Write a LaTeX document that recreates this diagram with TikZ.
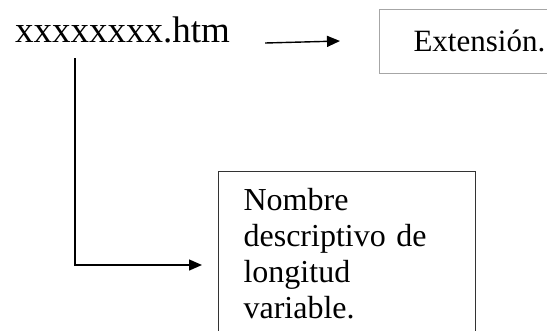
\documentclass[tikz,border=0pt]{standalone}
\usepackage{fontspec}
\setmainfont{Liberation Serif}
\usetikzlibrary{arrows.meta}
\begin{document}
\begin{tikzpicture}[x=1pt, y=-1pt, tip/.style={line width=1.4pt, -{Triangle[length=13pt,width=11pt]}}, box/.style={draw, anchor=north west, align=left}]
\useasboundingbox (0,0) rectangle (547,330);
\node[anchor=base west, inner sep=0pt, font=\fontsize{37}{44}\selectfont] (file) at (15,42) {xxxxxxxx.htm};
\node[box, draw=gray!70, line width=0.8pt, minimum width=200pt, minimum height=64pt, inner xsep=21pt, font=\fontsize{31}{36}\selectfont] (ext) at (379,9) {Extensión.};
\node[box, draw=black!80, line width=1.2pt, text width=207pt, inner xsep=25pt, inner ysep=17pt, font=\fontsize{32}{36}\selectfont] (name) at (218,171) {Nombre\\descriptivo de\\longitud\\variable.};
\coordinate (stem) at (75,58);
\draw[tip] ([xshift=35pt,yshift=-1pt]file.base east) -- ([xshift=-39pt]ext.west |- 0,41);
\draw[tip] (stem) |- ([xshift=-16pt]name.west |- 0,265);
\end{tikzpicture}
\end{document}
